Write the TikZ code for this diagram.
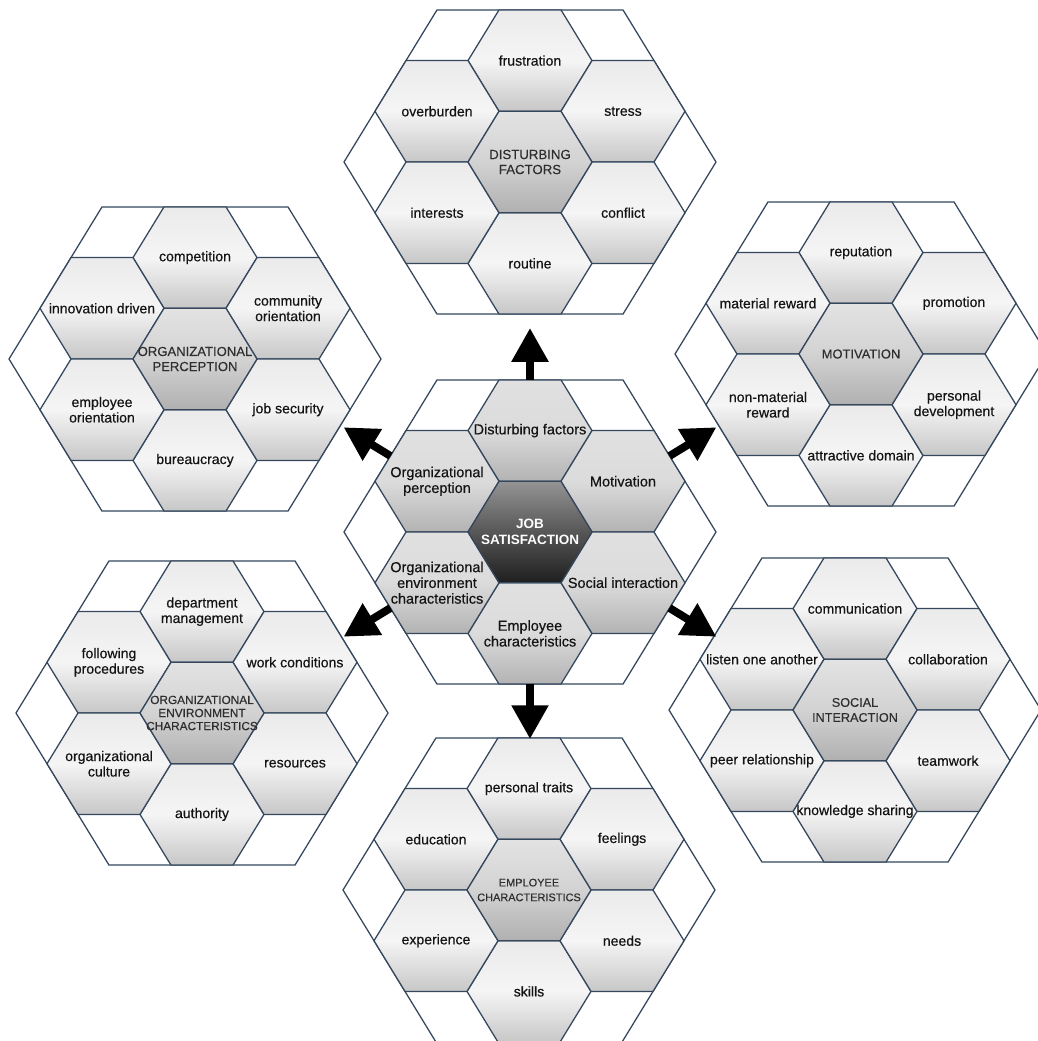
\documentclass[tikz,border=0pt]{standalone}
\usepackage{fontspec}
\setmainfont{Liberation Sans}
\newfontfamily\cellfont[FakeBold=0.45]{Liberation Sans}
\newfontfamily\corefont[FakeBold=0.25]{Liberation Sans}
\usetikzlibrary{arrows.meta}

\definecolor{hexline}{HTML}{34475C}

\tikzset{
  pics/hexcell/.style={code={%
    \path[pic actions] (62,0) -- (31,50.7) -- (-31,50.7) -- (-62,0)
      -- (-31,-50.7) -- (31,-50.7) -- cycle;}},
  pics/hexshell/.style={code={%
    \path[pic actions] (186,0) -- (93,152.1) -- (-93,152.1) -- (-186,0)
      -- (-93,-152.1) -- (93,-152.1) -- cycle;}}
}

\begin{document}
\begin{tikzpicture}[
  x=0.025cm, y=-0.025cm,
  outline/.style={draw=hexline,line width=.9pt,fill=white},
  ringcell/.style={draw=hexline,line width=.9pt,top color=gray!16,bottom color=gray!44,middle color=gray!8},
  corecell/.style={draw=hexline,line width=.9pt,top color=gray!22,bottom color=gray!62,middle color=gray!35},
  hubring/.style={draw=hexline,line width=.9pt,top color=gray!24,bottom color=gray!60,middle color=gray!28},
  hubcore/.style={draw=hexline,line width=.9pt,top color=black!42,bottom color=black!88,middle color=black!66},
  lbl/.style={align=center,inner sep=0pt,text=black!92,font=\cellfont\fontsize{10}{11}\selectfont},
  corelbl/.style={lbl,text=black!82},
  hublbl/.style={lbl,font=\cellfont\fontsize{10.3}{11.2}\selectfont},
  joblbl/.style={lbl,text=white,font=\bfseries\fontsize{9.6}{11.2}\selectfont},
  bigarr/.style={-{Triangle[width=25pt,length=24pt]},line width=5.6pt,draw=black}
]
\useasboundingbox (0,0) rectangle (1038,1041);

% cluster centres
\coordinate (js) at (530,532);
\coordinate (df) at (530,162);
\coordinate (op) at (195,359);
\coordinate (mo) at (861,354);
\coordinate (oe) at (202,713);
\coordinate (si) at (855,710);
\coordinate (ec) at (529,890);

% hub cluster
\begin{scope}[shift={(js)}]
  \pic[outline] {hexshell};
  \foreach \d/\px/\py in {n/0/-101.4,s/0/101.4,nw/-93/-50.7,ne/93/-50.7,sw/-93/50.7,se/93/50.7}{
    \pic[hubring] at (\px,\py) {hexcell};
    \coordinate (js-\d) at (\px,\py);
  }
  \pic[hubcore] {hexcell};
  \coordinate (js-en) at (0,-152.1);
  \coordinate (js-es) at (0,152.1);
  \coordinate (js-enw) at (-139.5,-76);
  \coordinate (js-ene) at (139.5,-76);
  \coordinate (js-esw) at (-139.5,76);
  \coordinate (js-ese) at (139.5,76);
  \coordinate (tip-df) at (0,-204);
  \coordinate (tip-ec) at (0,207);
  \coordinate (tip-op) at (-186.4,-104.7);
  \coordinate (tip-mo) at (186.4,-104.7);
  \coordinate (tip-oe) at (-186.4,104.7);
  \coordinate (tip-si) at (186.4,104.7);
\end{scope}

% outer clusters
\foreach \c in {df,op,mo,oe,si,ec}{
  \begin{scope}[shift={(\c)}]
    \pic[outline] {hexshell};
    \foreach \d/\px/\py in {n/0/-101.4,s/0/101.4,nw/-93/-50.7,ne/93/-50.7,sw/-93/50.7,se/93/50.7}{
      \pic[ringcell] at (\px,\py) {hexcell};
      \coordinate (\c-\d) at (\px,\py);
    }
    \pic[corecell] {hexcell};
  \end{scope}
}

% hub labels
\node[joblbl] (job) at (js) {JOB\\SATISFACTION};
\node[hublbl] (hub1) at (js-n) {Disturbing factors};
\node[hublbl] (hub2) at (js-ne) {Motivation};
\node[hublbl] (hub3) at (js-se) {Social interaction};
\node[hublbl] (hub4) at (js-s) {Employee\\characteristics};
\node[hublbl] (hub5) at (js-sw) {Organizational\\environment\\characteristics};
\node[hublbl] (hub6) at (js-nw) {Organizational\\perception};

% disturbing factors
\node[corelbl,font=\corefont\fontsize{9.4}{10.7}\selectfont] (dfc) at (df) {DISTURBING\\FACTORS};
\node[lbl] (df1) at (df-n) {frustration};
\node[lbl] (df2) at (df-ne) {stress};
\node[lbl] (df3) at (df-se) {conflict};
\node[lbl] (df4) at (df-s) {routine};
\node[lbl] (df5) at (df-sw) {interests};
\node[lbl] (df6) at (df-nw) {overburden};

% organizational perception
\node[corelbl,font=\corefont\fontsize{9.3}{10.7}\selectfont] (opc) at (op) {ORGANIZATIONAL\\PERCEPTION};
\node[lbl] (op1) at (op-n) {competition};
\node[lbl] (op2) at (op-ne) {community\\orientation};
\node[lbl] (op3) at (op-se) {job security};
\node[lbl] (op4) at (op-s) {bureaucracy};
\node[lbl] (op5) at (op-sw) {employee\\orientation};
\node[lbl] (op6) at (op-nw) {innovation driven};

% motivation
\node[corelbl,font=\corefont\fontsize{9.2}{10.7}\selectfont] (moc) at (mo) {MOTIVATION};
\node[lbl] (mo1) at (mo-n) {reputation};
\node[lbl] (mo2) at (mo-ne) {promotion};
\node[lbl] (mo3) at (mo-se) {personal\\development};
\node[lbl] (mo4) at (mo-s) {attractive domain};
\node[lbl] (mo5) at (mo-sw) {non-material\\reward};
\node[lbl] (mo6) at (mo-nw) {material reward};

% organizational environment characteristics
\node[corelbl,font=\corefont\fontsize{8.4}{9.3}\selectfont] (oec) at (oe) {ORGANIZATIONAL\\ENVIRONMENT\\CHARACTERISTICS};
\node[lbl] (oe1) at (oe-n) {department\\management};
\node[lbl] (oe2) at (oe-ne) {work conditions};
\node[lbl] (oe3) at (oe-se) {resources};
\node[lbl] (oe4) at (oe-s) {authority};
\node[lbl] (oe5) at (oe-sw) {organizational\\culture};
\node[lbl] (oe6) at (oe-nw) {following\\procedures};

% social interaction
\node[corelbl,font=\corefont\fontsize{9}{10.7}\selectfont] (sic) at (si) {SOCIAL\\INTERACTION};
\node[lbl] (si1) at (si-n) {communication};
\node[lbl] (si2) at (si-ne) {collaboration};
\node[lbl] (si3) at (si-se) {teamwork};
\node[lbl] (si4) at (si-s) {knowledge sharing};
\node[lbl] (si5) at (si-sw) {peer relationship};
\node[lbl] (si6) at (si-nw) {listen one another};

% employee characteristics
\node[corelbl,font=\corefont\fontsize{7.8}{10.5}\selectfont] (ecc) at (ec) {EMPLOYEE\\CHARACTERISTICS};
\node[lbl] (ec1) at (ec-n) {personal traits};
\node[lbl] (ec2) at (ec-ne) {feelings};
\node[lbl] (ec3) at (ec-se) {needs};
\node[lbl] (ec4) at (ec-s) {skills};
\node[lbl] (ec5) at (ec-sw) {experience};
\node[lbl] (ec6) at (ec-nw) {education};

\draw[bigarr] (js-en) -- (tip-df);
\draw[bigarr] (js-es) -- (tip-ec);
\draw[bigarr] (js-enw) -- (tip-op);
\draw[bigarr] (js-ene) -- (tip-mo);
\draw[bigarr] (js-esw) -- (tip-oe);
\draw[bigarr] (js-ese) -- (tip-si);
\end{tikzpicture}
\end{document}
